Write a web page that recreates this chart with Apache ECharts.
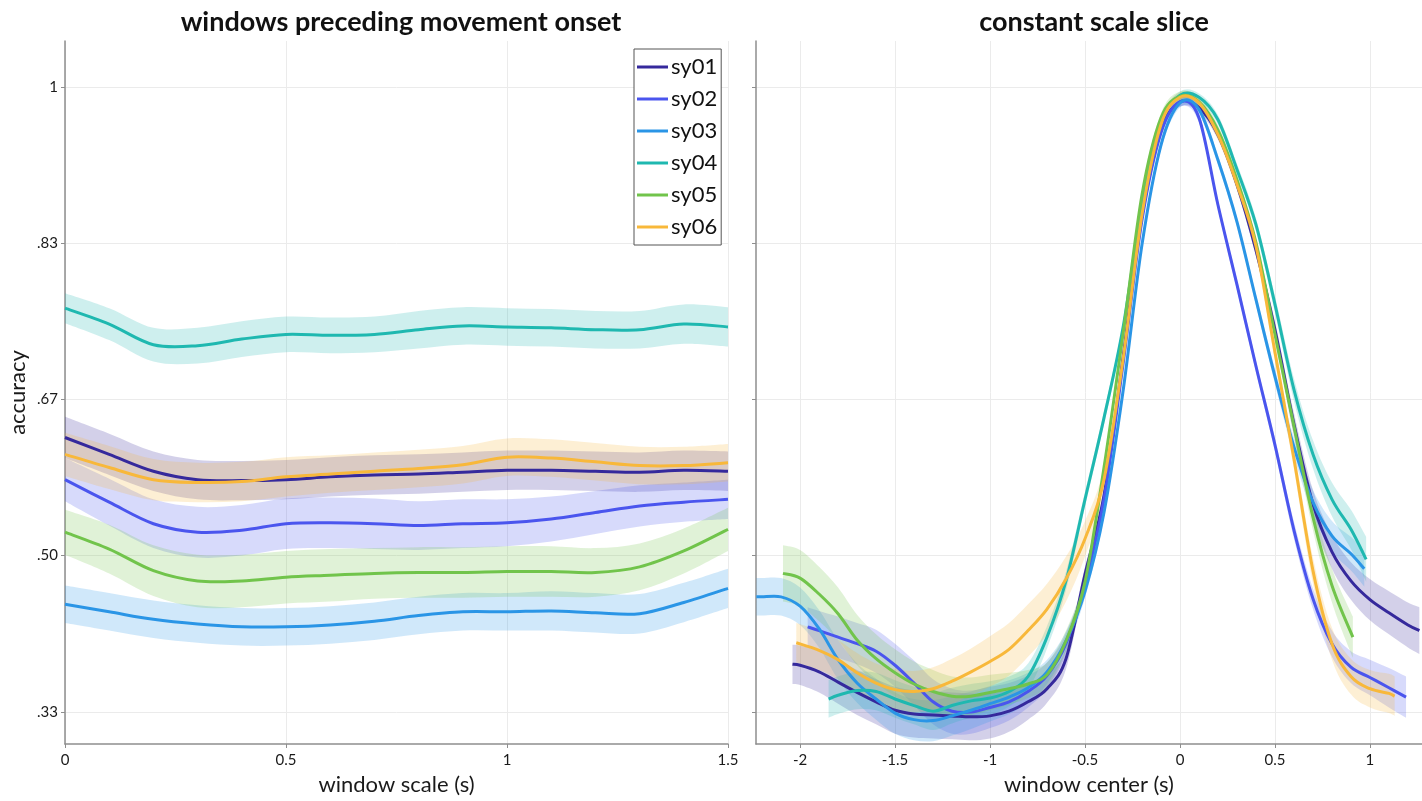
<!DOCTYPE html>
<html>
<head>
<meta charset="utf-8">
<script src="https://cdn.jsdelivr.net/npm/echarts@6/dist/echarts.min.js"></script>
<style>
  html, body { margin: 0; padding: 0; background: #ffffff; }
  #chart { width: 1422px; height: 801px; }
</style>
</head>
<body>
<div id="chart"></div>
<script>
// ---- subjects and colours ----
const SUBJECTS = ['sy01', 'sy02', 'sy03', 'sy04', 'sy05', 'sy06'];
const COLORS = ['#35299c', '#4a55ee', '#2a95e6', '#1fb8b0', '#71c44b', '#f8b83a'];

// ---- y axis ticks (shared by both panels) ----
const Y_TICKS = [1 / 3, 1 / 2, 2 / 3, 5 / 6, 1];
const Y_TICK_LABELS = ['.33', '.50', '.67', '.83', '1'];
const Y_MIN = 0.299, Y_MAX = 1.049;

// ---- left panel: accuracy vs window scale ----
const L_X = [0, 0.1, 0.2, 0.3, 0.4, 0.5, 0.6, 0.7, 0.8, 0.9, 1.0, 1.1, 1.2, 1.3, 1.4, 1.5];
const L_sy01 = [0.626, 0.608, 0.590, 0.581, 0.580, 0.581, 0.584, 0.586, 0.587, 0.589, 0.591, 0.591, 0.590, 0.589, 0.591, 0.590];
const L_sy02 = [0.581, 0.557, 0.534, 0.525, 0.527, 0.534, 0.535, 0.534, 0.532, 0.534, 0.535, 0.539, 0.546, 0.553, 0.557, 0.560];
const L_sy03 = [0.448, 0.440, 0.432, 0.427, 0.424, 0.424, 0.426, 0.430, 0.436, 0.440, 0.440, 0.441, 0.439, 0.438, 0.450, 0.465];
const L_sy04 = [0.764, 0.747, 0.725, 0.724, 0.731, 0.736, 0.735, 0.736, 0.741, 0.745, 0.744, 0.743, 0.741, 0.741, 0.747, 0.744];
const L_sy05 = [0.525, 0.507, 0.484, 0.473, 0.473, 0.477, 0.479, 0.481, 0.482, 0.482, 0.483, 0.483, 0.482, 0.488, 0.505, 0.528];
const L_sy06 = [0.608, 0.594, 0.581, 0.578, 0.579, 0.584, 0.587, 0.590, 0.593, 0.597, 0.605, 0.604, 0.600, 0.596, 0.596, 0.599];
// half widths of the shaded error bands
const LW_sy01 = [0.022, 0.022, 0.021, 0.021, 0.021, 0.021, 0.021, 0.021, 0.021, 0.021, 0.021, 0.021, 0.021, 0.021, 0.021, 0.021];
const LW_sy02 = [0.023, 0.025, 0.026, 0.027, 0.027, 0.027, 0.027, 0.027, 0.026, 0.026, 0.025, 0.024, 0.023, 0.022, 0.021, 0.021];
const LW_sy03 = [0.020, 0.020, 0.020, 0.020, 0.020, 0.020, 0.020, 0.020, 0.020, 0.020, 0.020, 0.021, 0.021, 0.021, 0.021, 0.021];
const LW_sy04 = [0.016, 0.017, 0.018, 0.019, 0.019, 0.019, 0.019, 0.019, 0.020, 0.020, 0.020, 0.020, 0.020, 0.020, 0.021, 0.021];
const LW_sy05 = [0.024, 0.026, 0.027, 0.028, 0.028, 0.028, 0.028, 0.027, 0.027, 0.027, 0.027, 0.027, 0.026, 0.025, 0.024, 0.023];
const LW_sy06 = [0.023, 0.023, 0.022, 0.021, 0.021, 0.021, 0.020, 0.020, 0.020, 0.020, 0.020, 0.020, 0.020, 0.020, 0.020, 0.020];

// ---- right panel: accuracy vs window center ----
const R_X_TICKS = [-2, -1.5, -1, -0.5, 0, 0.5, 1];
const R_X_MIN = -2.232, R_X_MAX = 1.274;

const R_x01 = [-2.04, -2.0, -1.9, -1.8, -1.7, -1.6, -1.5, -1.4, -1.3, -1.2, -1.1, -1.0, -0.9, -0.8, -0.7, -0.6, -0.5, -0.4, -0.3, -0.2, -0.1, 0, 0.1, 0.2, 0.3, 0.4, 0.5, 0.6, 0.7, 0.8, 0.9, 1.0, 1.1, 1.2, 1.26];
const R_y01 = [0.384, 0.383, 0.376, 0.365, 0.354, 0.344, 0.335, 0.331, 0.330, 0.329, 0.328, 0.329, 0.334, 0.344, 0.358, 0.390, 0.480, 0.564, 0.711, 0.864, 0.954, 0.984, 0.978, 0.949, 0.896, 0.826, 0.741, 0.640, 0.555, 0.504, 0.473, 0.453, 0.439, 0.426, 0.420];
const R_w01 = [0.021, 0.021, 0.022, 0.023, 0.024, 0.024, 0.025, 0.025, 0.025, 0.025, 0.025, 0.024, 0.022, 0.019, 0.015, 0.011, 0.008, 0.006, 0.005, 0.005, 0.005, 0.005, 0.005, 0.005, 0.006, 0.007, 0.009, 0.012, 0.015, 0.018, 0.020, 0.022, 0.023, 0.024, 0.025];

const R_x02 = [-1.96, -1.9, -1.8, -1.7, -1.6, -1.5, -1.4, -1.3, -1.2, -1.1, -1.0, -0.9, -0.8, -0.7, -0.6, -0.5, -0.4, -0.3, -0.2, -0.1, 0, 0.1, 0.2, 0.3, 0.4, 0.5, 0.6, 0.7, 0.8, 0.9, 1.0, 1.1, 1.19];
const R_y02 = [0.424, 0.420, 0.413, 0.406, 0.398, 0.383, 0.364, 0.344, 0.334, 0.333, 0.338, 0.344, 0.355, 0.372, 0.406, 0.470, 0.560, 0.704, 0.858, 0.951, 0.984, 0.967, 0.874, 0.789, 0.702, 0.618, 0.527, 0.454, 0.406, 0.381, 0.370, 0.359, 0.349];
const R_w02 = [0.021, 0.021, 0.022, 0.022, 0.023, 0.023, 0.024, 0.024, 0.024, 0.023, 0.022, 0.020, 0.017, 0.014, 0.011, 0.008, 0.006, 0.005, 0.005, 0.005, 0.005, 0.005, 0.005, 0.006, 0.006, 0.007, 0.009, 0.011, 0.014, 0.017, 0.019, 0.021, 0.022];

const R_x03 = [-2.23, -2.2, -2.1, -2.0, -1.9, -1.8, -1.7, -1.6, -1.5, -1.4, -1.3, -1.2, -1.1, -1.0, -0.9, -0.8, -0.7, -0.6, -0.5, -0.4, -0.3, -0.2, -0.1, 0, 0.1, 0.2, 0.3, 0.4, 0.5, 0.6, 0.7, 0.8, 0.9, 0.97];
const R_y03 = [0.456, 0.456, 0.456, 0.446, 0.422, 0.389, 0.364, 0.347, 0.332, 0.325, 0.324, 0.329, 0.335, 0.342, 0.349, 0.359, 0.376, 0.409, 0.462, 0.546, 0.675, 0.832, 0.938, 0.983, 0.976, 0.922, 0.856, 0.773, 0.691, 0.616, 0.557, 0.521, 0.502, 0.486];
const R_w03 = [0.020, 0.020, 0.020, 0.020, 0.020, 0.021, 0.021, 0.022, 0.022, 0.022, 0.022, 0.021, 0.020, 0.019, 0.018, 0.016, 0.013, 0.010, 0.007, 0.005, 0.005, 0.005, 0.005, 0.005, 0.005, 0.005, 0.005, 0.006, 0.008, 0.010, 0.013, 0.016, 0.018, 0.019];

const R_x04 = [-1.85, -1.8, -1.7, -1.6, -1.5, -1.4, -1.3, -1.2, -1.1, -1.0, -0.9, -0.8, -0.7, -0.6, -0.5, -0.4, -0.3, -0.2, -0.1, 0, 0.1, 0.2, 0.3, 0.4, 0.5, 0.6, 0.7, 0.8, 0.9, 0.98];
const R_y04 = [0.347, 0.351, 0.356, 0.355, 0.347, 0.340, 0.334, 0.340, 0.345, 0.348, 0.355, 0.371, 0.413, 0.473, 0.560, 0.647, 0.743, 0.874, 0.962, 0.991, 0.989, 0.965, 0.912, 0.853, 0.768, 0.677, 0.608, 0.560, 0.528, 0.496];
const R_w04 = [0.020, 0.020, 0.020, 0.020, 0.020, 0.020, 0.020, 0.019, 0.018, 0.018, 0.016, 0.014, 0.012, 0.010, 0.008, 0.007, 0.006, 0.005, 0.004, 0.004, 0.004, 0.005, 0.006, 0.007, 0.009, 0.012, 0.015, 0.018, 0.021, 0.024];

const R_x05 = [-2.09, -2.0, -1.9, -1.8, -1.7, -1.6, -1.5, -1.4, -1.3, -1.2, -1.1, -1.0, -0.9, -0.8, -0.7, -0.6, -0.5, -0.4, -0.3, -0.2, -0.1, 0, 0.1, 0.2, 0.3, 0.4, 0.5, 0.6, 0.7, 0.8, 0.91];
const R_y05 = [0.481, 0.476, 0.459, 0.438, 0.410, 0.390, 0.375, 0.363, 0.355, 0.350, 0.350, 0.354, 0.358, 0.363, 0.373, 0.409, 0.472, 0.594, 0.736, 0.885, 0.967, 0.990, 0.984, 0.954, 0.901, 0.834, 0.736, 0.638, 0.541, 0.468, 0.413];
const R_w05 = [0.030, 0.030, 0.029, 0.028, 0.027, 0.026, 0.025, 0.024, 0.023, 0.021, 0.020, 0.019, 0.017, 0.015, 0.013, 0.011, 0.008, 0.006, 0.005, 0.005, 0.005, 0.005, 0.005, 0.005, 0.005, 0.006, 0.008, 0.011, 0.014, 0.018, 0.022];

const R_x06 = [-2.02, -1.9, -1.8, -1.7, -1.6, -1.5, -1.4, -1.3, -1.2, -1.1, -1.0, -0.9, -0.8, -0.7, -0.6, -0.5, -0.4, -0.3, -0.2, -0.1, 0, 0.1, 0.2, 0.3, 0.4, 0.5, 0.6, 0.7, 0.8, 0.9, 1.0, 1.1, 1.13];
const R_y06 = [0.407, 0.399, 0.389, 0.375, 0.364, 0.357, 0.355, 0.358, 0.366, 0.376, 0.387, 0.400, 0.420, 0.443, 0.475, 0.518, 0.581, 0.709, 0.864, 0.960, 0.989, 0.983, 0.949, 0.896, 0.830, 0.717, 0.603, 0.484, 0.406, 0.371, 0.358, 0.353, 0.350];
const R_w06 = [0.021, 0.021, 0.021, 0.021, 0.021, 0.022, 0.022, 0.023, 0.024, 0.025, 0.027, 0.028, 0.028, 0.027, 0.024, 0.019, 0.014, 0.009, 0.006, 0.005, 0.005, 0.005, 0.005, 0.006, 0.007, 0.009, 0.011, 0.014, 0.017, 0.019, 0.020, 0.021, 0.021];

// ---- assemble per-panel tables ----
const LEFT = [
  [L_X, L_sy01, LW_sy01], [L_X, L_sy02, LW_sy02], [L_X, L_sy03, LW_sy03],
  [L_X, L_sy04, LW_sy04], [L_X, L_sy05, LW_sy05], [L_X, L_sy06, LW_sy06]
];
const RIGHT = [
  [R_x01, R_y01, R_w01], [R_x02, R_y02, R_w02], [R_x03, R_y03, R_w03],
  [R_x04, R_y04, R_w04], [R_x05, R_y05, R_w05], [R_x06, R_y06, R_w06]
];

const FONT = 'Lato, "Open Sans", sans-serif';
const AXIS_GREY = '#8e8e8e';
const GRID_GREY = '#ebebeb';

// Catmull-Rom spline through pixel points, as cubic bezier path commands
function splineCommands(pts, moveFirst) {
  let d = (moveFirst ? 'M' : 'L') + pts[0][0] + ' ' + pts[0][1];
  for (let i = 0; i < pts.length - 1; i++) {
    const p0 = pts[i - 1] || pts[i];
    const p1 = pts[i];
    const p2 = pts[i + 1];
    const p3 = pts[i + 2] || p2;
    const c1x = p1[0] + (p2[0] - p0[0]) / 6, c1y = p1[1] + (p2[1] - p0[1]) / 6;
    const c2x = p2[0] - (p3[0] - p1[0]) / 6, c2y = p2[1] - (p3[1] - p1[1]) / 6;
    d += ' C' + c1x + ' ' + c1y + ' ' + c2x + ' ' + c2y + ' ' + p2[0] + ' ' + p2[1];
  }
  return d;
}

// shaded band (mean ± half width) drawn through the axis scales
function bandSeries(name, xs, ys, ws, color, idx) {
  return {
    name: name + ' band',
    type: 'custom',
    xAxisIndex: idx,
    yAxisIndex: idx,
    silent: true,
    z: 1,
    itemStyle: { color: color },
    data: xs.map((x, k) => [x, ys[k] - ws[k], ys[k] + ws[k]]),
    encode: { x: 0, y: [1, 2] },
    renderItem: function (params, api) {
      if (params.dataIndex !== 0) return null;
      const upper = xs.map((x, k) => api.coord([x, ys[k] + ws[k]]));
      const lower = xs.map((x, k) => api.coord([x, ys[k] - ws[k]])).reverse();
      const d = splineCommands(upper, true) + ' ' + splineCommands(lower, false) + ' Z';
      return {
        type: 'path',
        shape: { pathData: d },
        style: { fill: color, opacity: 0.22 }
      };
    }
  };
}

// mean curve, the same spline through the axis-mapped points
function curveSeries(name, xs, ys, color, idx) {
  return {
    name: name,
    type: 'custom',
    xAxisIndex: idx,
    yAxisIndex: idx,
    silent: true,
    z: 3,
    itemStyle: { color: color },
    data: xs.map((x, k) => [x, ys[k]]),
    encode: { x: 0, y: 1 },
    renderItem: function (params, api) {
      if (params.dataIndex !== 0) return null;
      const pts = xs.map((x, k) => api.coord([x, ys[k]]));
      return {
        type: 'path',
        shape: { pathData: splineCommands(pts, true) },
        style: { fill: 'none', stroke: color, lineWidth: 3, lineJoin: 'round', lineCap: 'butt' }
      };
    }
  };
}

const series = [];
[LEFT, RIGHT].forEach((panel, idx) => {
  panel.forEach((row, i) => series.push(bandSeries(SUBJECTS[i], row[0], row[1], row[2], COLORS[i], idx)));
});
[LEFT, RIGHT].forEach((panel, idx) => {
  panel.forEach((row, i) => series.push(curveSeries(SUBJECTS[i], row[0], row[1], COLORS[i], idx)));
});

function yLabel(v) {
  let best = 0;
  Y_TICKS.forEach((t, i) => { if (Math.abs(t - v) < Math.abs(Y_TICKS[best] - v)) best = i; });
  return Y_TICK_LABELS[best];
}

function yAxis(idx, showLabels) {
  return {
    type: 'value',
    gridIndex: idx,
    min: Y_MIN,
    max: Y_MAX,
    name: showLabels ? 'accuracy' : '',
    nameLocation: 'middle',
    nameGap: 36,
    nameTextStyle: { fontSize: 22, color: '#1a1a1a', fontFamily: FONT },
    axisLine: { show: true, onZero: false, lineStyle: { color: AXIS_GREY, width: 1.5 } },
    axisTick: { show: true, length: 4, customValues: Y_TICKS, lineStyle: { color: AXIS_GREY } },
    axisLabel: {
      show: showLabels,
      customValues: Y_TICKS,
      formatter: yLabel,
      fontSize: 15,
      color: '#1a1a1a',
      fontFamily: FONT,
      margin: 7
    },
    splitLine: { show: true, lineStyle: { color: GRID_GREY, width: 1 } }
  };
}

const xCommon = {
  type: 'value',
  nameLocation: 'middle',
  nameGap: 30,
  nameTextStyle: { fontSize: 22, color: '#1a1a1a', fontFamily: FONT },
  axisLine: { show: true, onZero: false, lineStyle: { color: AXIS_GREY, width: 1.5 } },
  axisTick: { show: true, length: 4, lineStyle: { color: AXIS_GREY } },
  axisLabel: { fontSize: 15, color: '#1a1a1a', fontFamily: FONT, margin: 9 },
  splitLine: { show: true, lineStyle: { color: GRID_GREY, width: 1 } }
};

const option = {
  animation: false,
  backgroundColor: '#ffffff',
  title: [
    {
      text: 'windows preceding movement onset',
      left: 396, top: 4, textAlign: 'center',
      textStyle: { fontSize: 27, fontWeight: 'bold', color: '#111', fontFamily: FONT }
    },
    {
      text: 'constant scale slice',
      left: 1089, top: 4, textAlign: 'center',
      textStyle: { fontSize: 27, fontWeight: 'bold', color: '#111', fontFamily: FONT }
    }
  ],
  legend: {
    data: SUBJECTS,
    orient: 'vertical',
    left: 634,
    top: 49,
    padding: [7, 4, 7, 3],
    itemGap: 10,
    itemWidth: 31,
    itemHeight: 3,
    icon: 'rect',
    borderColor: '#555',
    borderWidth: 1,
    backgroundColor: '#ffffff',
    textStyle: { fontSize: 22, lineHeight: 22, color: '#111', fontFamily: FONT, padding: [0, 0, 0, -2] }
  },
  grid: [
    { left: 65, right: 694, top: 41, bottom: 56, containLabel: false },
    { left: 756, right: 0, top: 41, bottom: 56, containLabel: false }
  ],
  xAxis: [
    Object.assign({}, xCommon, {
      gridIndex: 0, min: 0, max: 1.5, interval: 0.5, name: 'window scale (s)'
    }),
    Object.assign({}, xCommon, {
      gridIndex: 1, min: R_X_MIN, max: R_X_MAX, name: 'window center (s)',
      axisTick: Object.assign({}, xCommon.axisTick, { customValues: R_X_TICKS }),
      axisLabel: Object.assign({}, xCommon.axisLabel, { customValues: R_X_TICKS })
    })
  ],
  yAxis: [yAxis(0, true), yAxis(1, false)],
  series: series
};

const chart = echarts.init(document.getElementById('chart'), null, { renderer: 'canvas' });
chart.setOption(option);
</script>
</body>
</html>
